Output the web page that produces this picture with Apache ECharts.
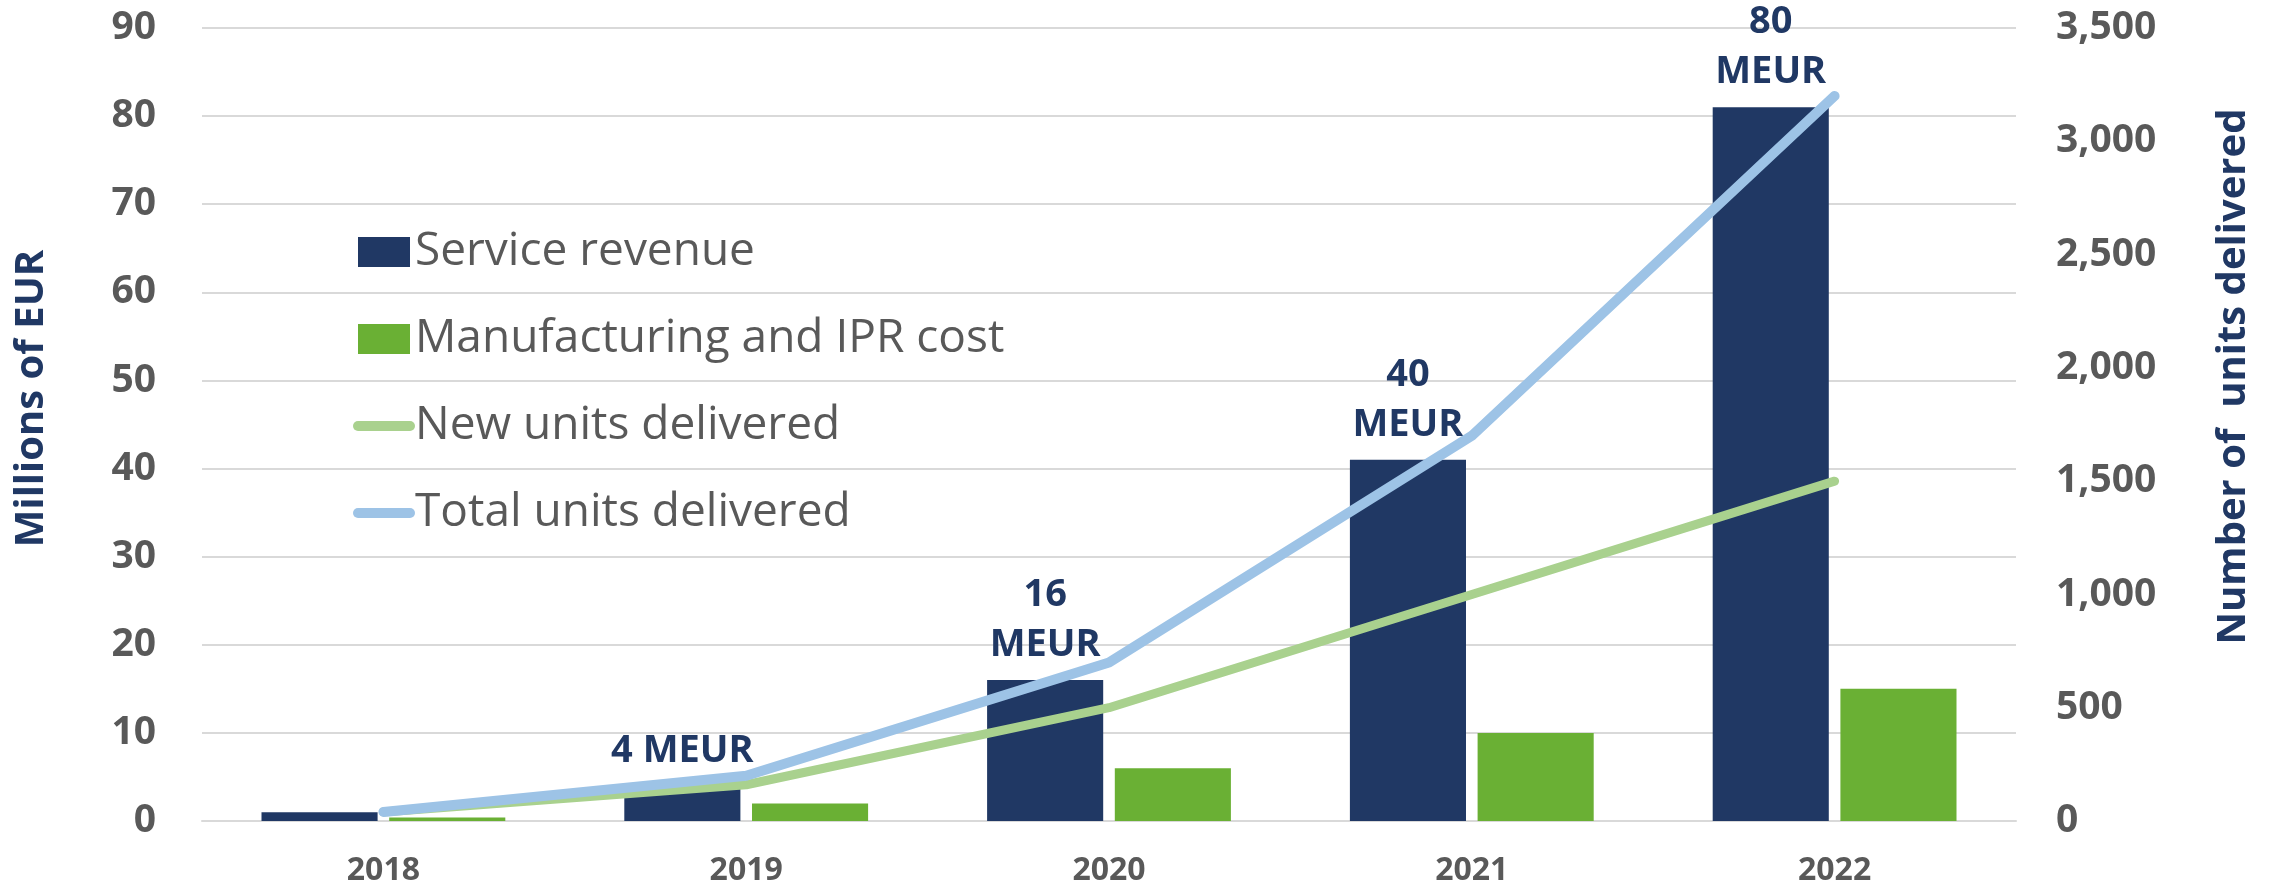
<!DOCTYPE html>
<html lang="en" style="background: #FFFFFF;height: 100%">

<head>
    <meta charset="utf-8" />
    <title>Service revenue and units delivered</title>
    <script type="text/javascript" src="https://cdn.jsdelivr.net/npm/echarts@6/dist/echarts.min.js"></script>
</head>

<body style="margin: 0;height: 100%">
    <div id="chart" style="width:2272px;height:887px"></div>
    <script>
    let years = ['2018', '2019', '2020', '2021', '2022']
    let serviceRevenue = [1, 4, 16, 41, 81] // millions of EUR
    let manufacturingCost = [0.4, 2, 6, 10, 15]
    let newUnits = [40, 160, 500, 1000, 1500]
    let totalUnits = [40, 200, 700, 1700, 3200]
    let revenueLabels = ['', '4 MEUR', '16\nMEUR', '40\nMEUR', '80\nMEUR']

    let grey = '#595959'
    let navy = '#203864'
    let font = '"Open Sans", "Noto Sans", sans-serif'

    let chart = echarts.init(document.getElementById('chart'))

    chart.setOption({
        animation: false,
        textStyle: { fontFamily: font },
        grid: { left: 202, right: 256, top: 28, bottom: 63 },
        legend: {
            orient: 'vertical',
            left: 348,
            top: 222,
            itemWidth: 52,
            itemHeight: 30,
            itemGap: 37,
            textStyle: { fontSize: 46, lineHeight: 50, color: grey, fontFamily: font },
            data: [
                { name: 'Service revenue', icon: 'rect' },
                { name: 'Manufacturing and IPR cost', icon: 'rect' },
                // hide the dot ECharts puts on line legend icons, keep a thick round line
                { name: 'New units delivered', itemStyle: { opacity: 0 }, lineStyle: { width: 10, cap: 'round' } },
                { name: 'Total units delivered', itemStyle: { opacity: 0 }, lineStyle: { width: 10, cap: 'round' } }
            ]
        },
        xAxis: {
            type: 'category',
            data: years,
            axisTick: { show: false },
            axisLine: { lineStyle: { color: '#D9D9D9', width: 2 } },
            axisLabel: { color: grey, fontSize: 32, fontWeight: 'bold', margin: 34 }
        },
        yAxis: [{
            type: 'value',
            min: 0,
            max: 90,
            interval: 10,
            name: 'Millions of EUR',
            nameLocation: 'middle',
            nameGap: 150,
            nameRotate: 90,
            nameTextStyle: { color: navy, fontSize: 40, fontWeight: 'bold', padding: [0, 0, 0, 52] },
            axisLabel: { color: grey, fontSize: 39, fontWeight: 'bold', margin: 46 },
            splitLine: { lineStyle: { color: '#D9D9D9', width: 2 } }
        }, {
            type: 'value',
            min: 0,
            max: 3500,
            interval: 500,
            name: 'Number of  units delivered',
            nameLocation: 'middle',
            nameGap: 198,
            nameRotate: 90,
            nameTextStyle: { color: navy, fontSize: 40, fontWeight: 'bold', padding: [0, 0, 0, 96] },
            axisLabel: {
                color: grey,
                fontSize: 39,
                fontWeight: 'bold',
                margin: 40,
                formatter: v => v.toLocaleString('en-US')
            },
            splitLine: { show: false }
        }],
        series: [{
            name: 'Service revenue',
            type: 'bar',
            data: serviceRevenue,
            barWidth: '32%',
            barGap: '10%',
            itemStyle: { color: navy },
            label: {
                show: true,
                position: 'top',
                distance: 10,
                color: navy,
                fontSize: 38,
                fontWeight: 'bold',
                lineHeight: 50,
                formatter: p => revenueLabels[p.dataIndex]
            },
            z: 2
        }, {
            name: 'Manufacturing and IPR cost',
            type: 'bar',
            data: manufacturingCost,
            barWidth: '32%',
            itemStyle: { color: '#6AB034' }
        }, {
            name: 'New units delivered',
            type: 'line',
            yAxisIndex: 1,
            data: newUnits,
            symbol: 'none',
            lineStyle: { color: '#A9D18E', width: 9, cap: 'round', join: 'round' },
            itemStyle: { color: '#A9D18E' }
        }, {
            name: 'Total units delivered',
            type: 'line',
            yAxisIndex: 1,
            data: totalUnits,
            symbol: 'none',
            lineStyle: { color: '#9DC3E6', width: 10, cap: 'round', join: 'round' },
            itemStyle: { color: '#9DC3E6' }
        }]
    })
    </script>
</body>

</html>
